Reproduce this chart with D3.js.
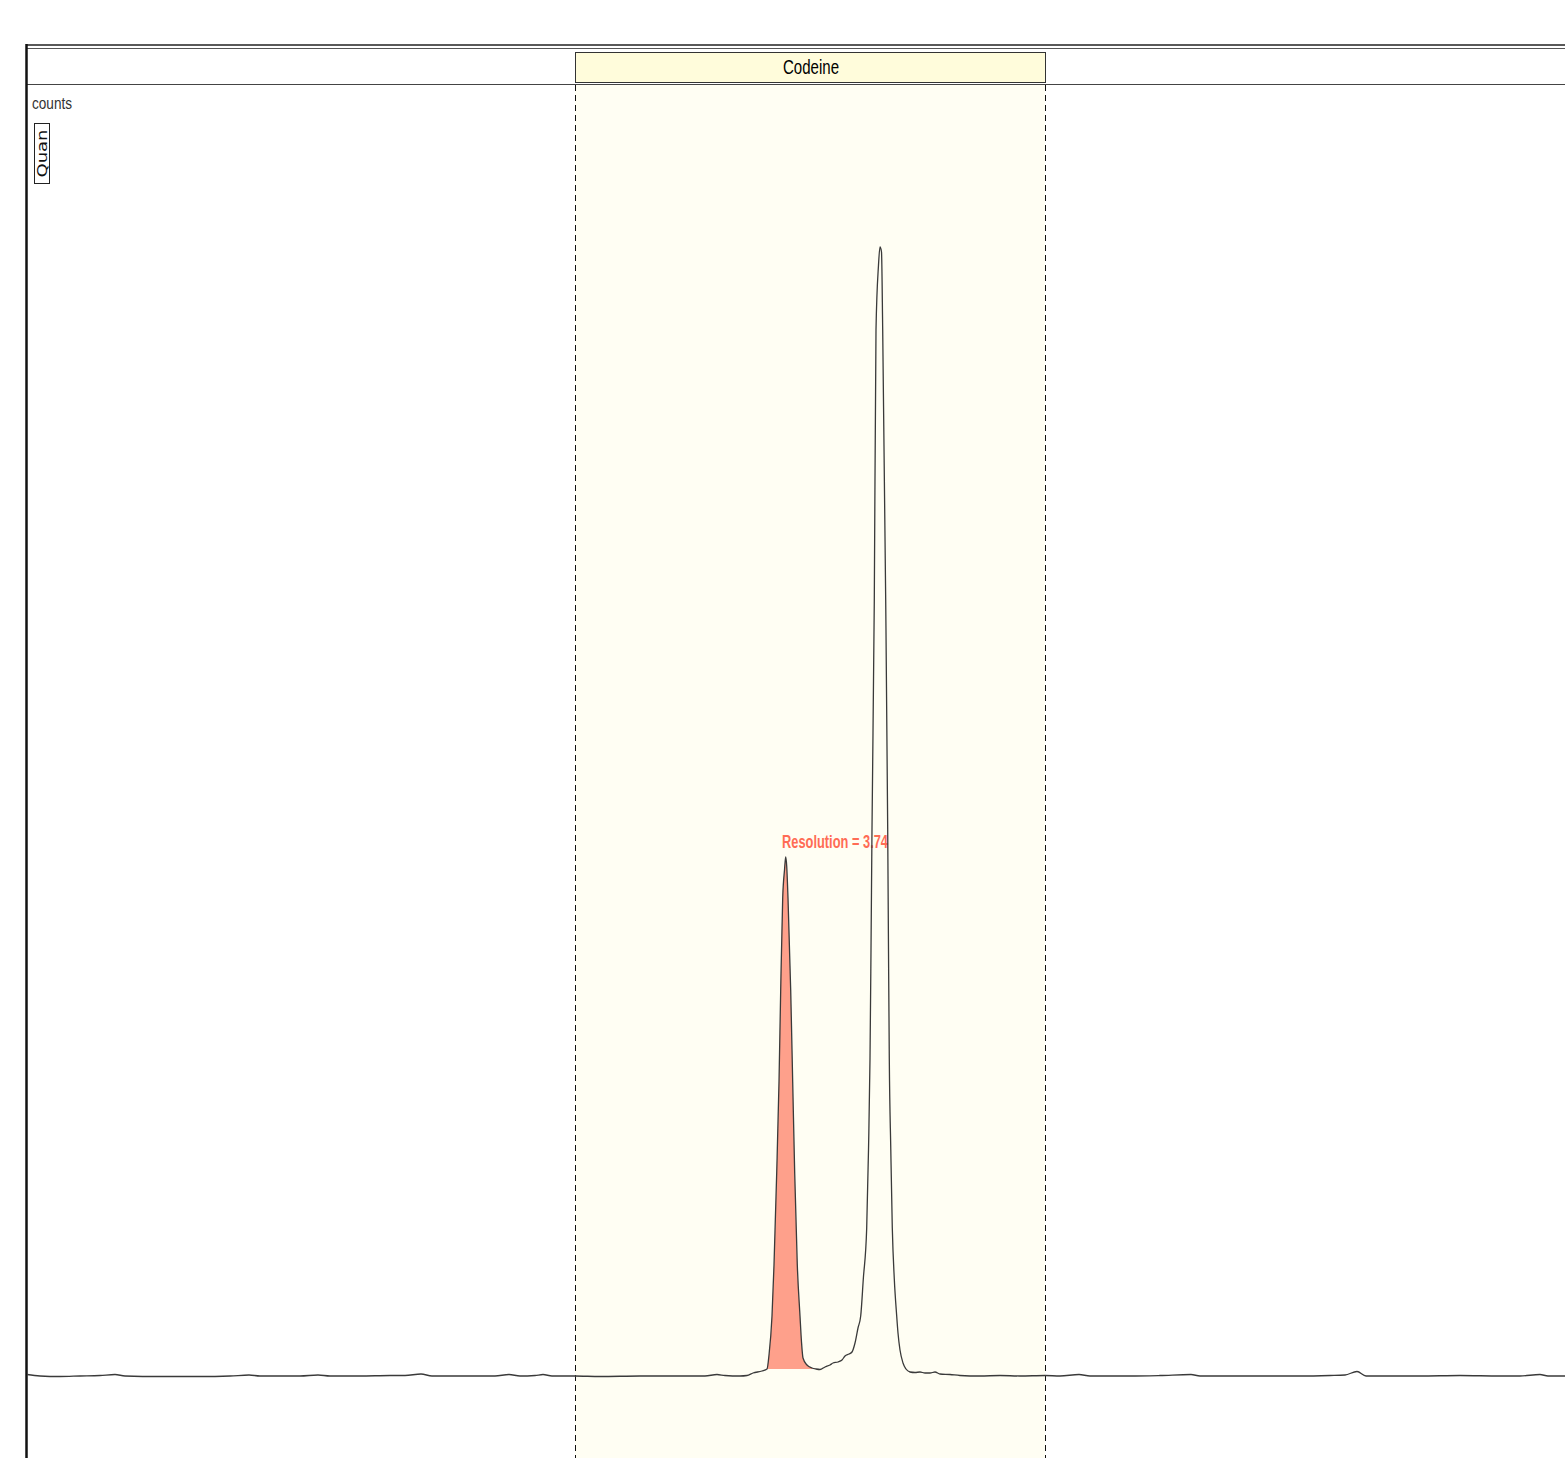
<!DOCTYPE html>
<html>
<head>
<meta charset="utf-8">
<script src="https://cdn.jsdelivr.net/npm/d3@7.9.0/dist/d3.min.js"></script>
<style>
  body { margin: 0; background: #fff; }
  svg { display: block; }
</style>
</head>
<body>
<svg id="chrom" width="1565" height="1458"></svg>
<script>
// retention time (min) and detector counts of the trace
const traceTime = [
  1.527, 1.540, 1.560, 1.580, 1.600, 1.615, 1.625, 1.660, 1.700, 1.730,
  1.749, 1.760, 1.800, 1.818, 1.830, 1.860, 1.890, 1.905, 1.921, 1.932,
  1.970, 1.995, 2.009, 2.020, 2.035, 2.043, 2.052, 2.075, 2.100, 2.140,
  2.180, 2.205, 2.217, 2.225, 2.240, 2.247, 2.253, 2.262,
  2.267, 2.269, 2.272, 2.274, 2.2767, 2.279, 2.2807, 2.2827, 2.2845, 2.2857,
  2.2867, 2.288, 2.2907, 2.2927, 2.2947, 2.2973, 2.300, 2.3015, 2.303, 2.307,
  2.312, 2.316,
  2.320, 2.325, 2.330, 2.333, 2.338, 2.342, 2.345, 2.349,
  2.352, 2.355, 2.358, 2.3607, 2.3633, 2.3667, 2.3685, 2.370, 2.371, 2.372,
  2.3743, 2.376, 2.3785, 2.380,
  2.3815, 2.3827, 2.3857, 2.3877, 2.3885, 2.3893, 2.3908, 2.3923, 2.3943, 2.3967,
  2.398, 2.400, 2.403, 2.406,
  2.410, 2.415, 2.420, 2.425, 2.430, 2.435, 2.440, 2.450, 2.460, 2.480,
  2.500, 2.520, 2.545, 2.560, 2.579, 2.590, 2.630, 2.660, 2.691, 2.700,
  2.730, 2.770, 2.800, 2.830, 2.845, 2.857, 2.866, 2.890, 2.920, 2.960,
  3.000, 3.020, 3.040, 3.048, 3.065
];
const traceCounts = [
  450, 300, 250, 300, 350, 450, 300, 250, 250, 300,
  400, 300, 300, 400, 300, 300, 350, 350, 500, 300,
  300, 300, 450, 300, 350, 450, 300, 300, 250, 300,
  300, 300, 450, 350, 300, 350, 600, 800,
  1000, 2400, 6300, 11400, 20600, 29700, 38900, 48100, 50900, 52200,
  51300, 48100, 38900, 29700, 20600, 11400, 6300, 3700, 2100, 1400,
  1100, 1000,
  950, 1200, 1400, 1600, 1700, 1900, 2300, 2500,
  2700, 3600, 5100, 6300, 10000, 15100, 22900, 32000, 42900, 55000,
  77900, 104900, 111400, 113200,
  112700, 104900, 77900, 55000, 42900, 32000, 22900, 15100, 10000, 6300,
  4600, 2900, 1600, 1000,
  700, 650, 700, 600, 600, 700, 500, 450, 350, 300,
  350, 300, 350, 300, 450, 300, 300, 350, 450, 300,
  300, 300, 300, 350, 400, 750, 300, 300, 300, 350,
  300, 300, 450, 300, 300
];

// compound window and integrated peak
const regionName = 'Codeine';
const regionWindow = [2.075, 2.545];
const peakWindow = [2.267, 2.316];
const peakBaseCounts = 1000;
const resolutionLabel = 'Resolution = 3.74';
const yLabel = 'counts';
const traceLabel = 'Quan';

const svg = d3.select('#chrom');
const W = 1565, H = 1458;
const left = 27, headerTop = 52, headerBottom = 82, plotTop = 85;

const x = d3.scaleLinear().domain([1.527, 3.065]).range([left, W]);
const y = d3.scaleLinear().domain([0, 120000]).range([1379, 179]);

const points = traceTime.map((t, i) => ({ t, c: traceCounts[i] }));

// compound window band
svg.append('rect')
  .attr('x', x(regionWindow[0])).attr('y', plotTop)
  .attr('width', x(regionWindow[1]) - x(regionWindow[0]))
  .attr('height', H - plotTop)
  .attr('fill', '#fffef3');

// header box
svg.append('rect')
  .attr('x', x(regionWindow[0]) + 0.5).attr('y', headerTop + 0.5)
  .attr('width', x(regionWindow[1]) - x(regionWindow[0]))
  .attr('height', headerBottom - headerTop)
  .attr('fill', '#fffcdb').attr('stroke', '#333').attr('stroke-width', 1);

svg.append('text')
  .attr('x', (x(regionWindow[0]) + x(regionWindow[1])) / 2 + 1)
  .attr('y', 73.5)
  .attr('text-anchor', 'middle')
  .attr('font-family', '"Liberation Sans Narrow", "Arial Narrow", sans-serif')
  .attr('font-size', 20)
  .attr('fill', '#000')
  .attr('textLength', 56).attr('lengthAdjust', 'spacingAndGlyphs')
  .text(regionName);

// dashed window edges
regionWindow.forEach(t => {
  svg.append('line')
    .attr('x1', Math.round(x(t)) + 0.5).attr('x2', Math.round(x(t)) + 0.5)
    .attr('y1', plotTop).attr('y2', H)
    .attr('stroke', '#111').attr('stroke-width', 1)
    .attr('stroke-dasharray', '6,4');
});

// frame
svg.append('line').attr('x1', left - 1).attr('x2', W).attr('y1', 45).attr('y2', 45)
  .attr('stroke', '#222').attr('stroke-width', 1.5);
svg.append('line').attr('x1', left - 1).attr('x2', W).attr('y1', 48.5).attr('y2', 48.5)
  .attr('stroke', '#555').attr('stroke-width', 1);
svg.append('line').attr('x1', left).attr('x2', W).attr('y1', 84.5).attr('y2', 84.5)
  .attr('stroke', '#444').attr('stroke-width', 1);
svg.append('line').attr('x1', 26.5).attr('x2', 26.5).attr('y1', 44).attr('y2', H)
  .attr('stroke', '#111').attr('stroke-width', 2.5);

// y label and trace tag
svg.append('text')
  .attr('x', 32).attr('y', 109)
  .attr('font-family', '"Liberation Sans Narrow", "Arial Narrow", sans-serif')
  .attr('font-size', 17).attr('fill', '#333')
  .attr('textLength', 40).attr('lengthAdjust', 'spacingAndGlyphs')
  .text(yLabel);

svg.append('rect')
  .attr('x', 34.5).attr('y', 123.5).attr('width', 15).attr('height', 60)
  .attr('fill', '#fff').attr('stroke', '#222').attr('stroke-width', 1);
svg.append('text')
  .attr('transform', 'translate(46.5,153.5) rotate(-90)')
  .attr('text-anchor', 'middle')
  .attr('font-family', '"DejaVu Sans", Verdana, sans-serif')
  .attr('font-size', 14.5).attr('fill', '#111')
  .attr('textLength', 48).attr('lengthAdjust', 'spacingAndGlyphs')
  .text(traceLabel);

// integrated peak area
const peakPts = points.filter(d => d.t >= peakWindow[0] && d.t <= peakWindow[1]);
svg.append('path')
  .datum(peakPts)
  .attr('d', d3.area().curve(d3.curveMonotoneX)
    .x(d => x(d.t)).y0(y(peakBaseCounts)).y1(d => y(d.c)))
  .attr('fill', '#fea08b');

// resolution label
svg.append('text')
  .attr('x', 782).attr('y', 848)
  .attr('font-family', '"Liberation Sans Narrow", "Arial Narrow", sans-serif')
  .attr('font-size', 19).attr('font-weight', 'bold')
  .attr('fill', '#ff6c55')
  .attr('textLength', 106).attr('lengthAdjust', 'spacingAndGlyphs')
  .text(resolutionLabel);

// chromatogram trace
svg.append('path')
  .datum(points)
  .attr('d', d3.line().curve(d3.curveMonotoneX).x(d => x(d.t)).y(d => y(d.c)))
  .attr('fill', 'none')
  .attr('stroke', '#3a3a3a')
  .attr('stroke-width', 1.3)
  .attr('stroke-linejoin', 'round');
</script>
</body>
</html>
